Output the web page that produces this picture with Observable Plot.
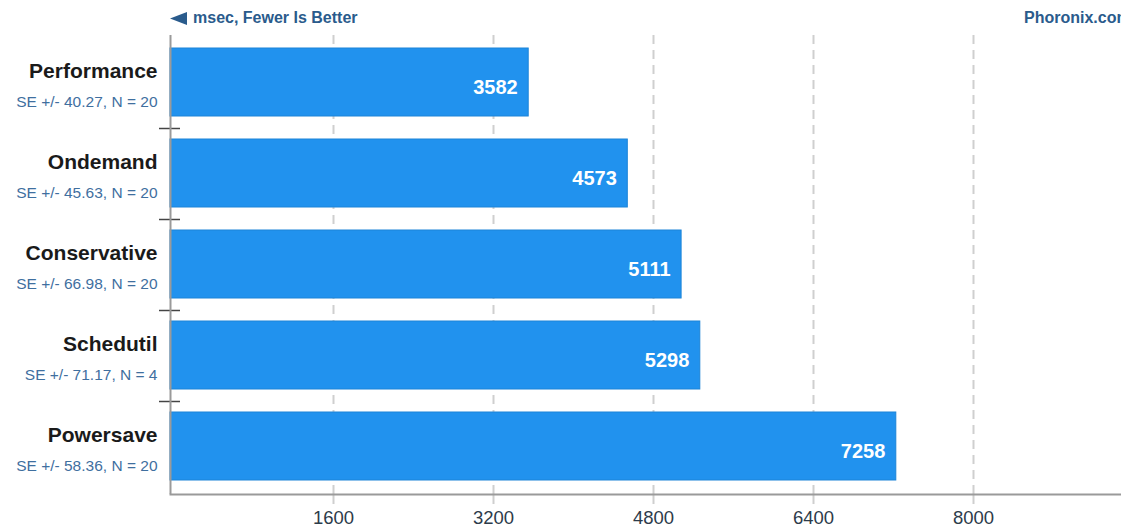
<!DOCTYPE html>
<html>
<head>
<meta charset="utf-8">
<script src="https://cdn.jsdelivr.net/npm/d3@7"></script>
<script src="https://cdn.jsdelivr.net/npm/@observablehq/plot@0.6"></script>
<style>
  html, body { margin: 0; padding: 0; background: #fff; overflow: hidden; }
  body { width: 1121px; height: 527px; position: relative; font-family: "Liberation Sans", Arial, sans-serif; }
  #chart { position: absolute; left: 0; top: 0; }
  .hdr { position: absolute; top: 8px; font-weight: bold; font-size: 16px; color: #2a5b8c; white-space: nowrap; line-height: 20px; }
  #arrow { position: absolute; left: 170px; top: 12px; }
</style>
</head>
<body>
<div id="chart"></div>
<svg id="arrow" width="18" height="13"><polygon points="0,6.5 17,0 17,13" fill="#2a5b8c"/></svg>
<div class="hdr" style="left:193px">msec, Fewer Is Better</div>
<div class="hdr" style="left:1024px">Phoronix.com</div>
<script>
const categories = ["Performance", "Ondemand", "Conservative", "Schedutil", "Powersave"];
const values = [3582, 4573, 5111, 5298, 7258];
const seLabels = [
  "SE +/- 40.27, N = 20",
  "SE +/- 45.63, N = 20",
  "SE +/- 66.98, N = 20",
  "SE +/- 71.17, N = 4",
  "SE +/- 58.36, N = 20"
];
const xTicks = [1600, 3200, 4800, 6400, 8000];

const data = categories.map((c, i) => ({name: c, value: values[i], se: seLabels[i]}));

const chart = Plot.plot({
  width: 1121,
  height: 527,
  marginTop: 35,
  marginBottom: 33,
  marginLeft: 170,
  marginRight: 0,
  style: {fontFamily: "'Liberation Sans', Arial, sans-serif", background: "#fff"},
  x: {domain: [0, 9510], axis: null},
  y: {domain: categories, paddingInner: 0.25, paddingOuter: 0.125, axis: null},
  marks: [
    Plot.ruleX(xTicks, {stroke: "#cfcfcf", strokeWidth: 2, strokeDasharray: "9,6", dx: 3}),
    Plot.axisX({ticks: xTicks, tickSize: 10, tickPadding: 6, stroke: "#cfcfcf", strokeWidth: 2, dx: 3,
      fontSize: 18.5, fill: "#2d3b4a", label: null, tickFormat: d => String(d)}),
    Plot.barX(data, {y: "name", x: "value", fill: "#2192ee", stroke: "#1c84d8", strokeWidth: 1}),
    Plot.text(data, {y: "name", x: "value", text: d => String(d.value), textAnchor: "end", dx: -11, dy: 5,
      fill: "#fff", fontWeight: "bold", fontSize: 20}),
    Plot.text(data, {y: "name", x: 0, text: "name", textAnchor: "end", dx: -13, dy: -11.5,
      fill: "#1a1a1a", fontWeight: "bold", fontSize: 21}),
    Plot.text(data, {y: "name", x: 0, text: "se", textAnchor: "end", dx: -13, dy: 19.5,
      fill: "#3f6f9f", fontSize: 15.5}),
    Plot.ruleY(categories.slice(0, -1), {y: d => d, dy: 46, x1: -110, x2: 100, stroke: "#444", strokeWidth: 1.5}),
    Plot.ruleX([0], {stroke: "#9a9a9a", strokeWidth: 2}),
    Plot.frame({anchor: "bottom", stroke: "#9a9a9a", strokeWidth: 2})
  ]
});
document.getElementById("chart").appendChild(chart);
</script>
</body>
</html>
